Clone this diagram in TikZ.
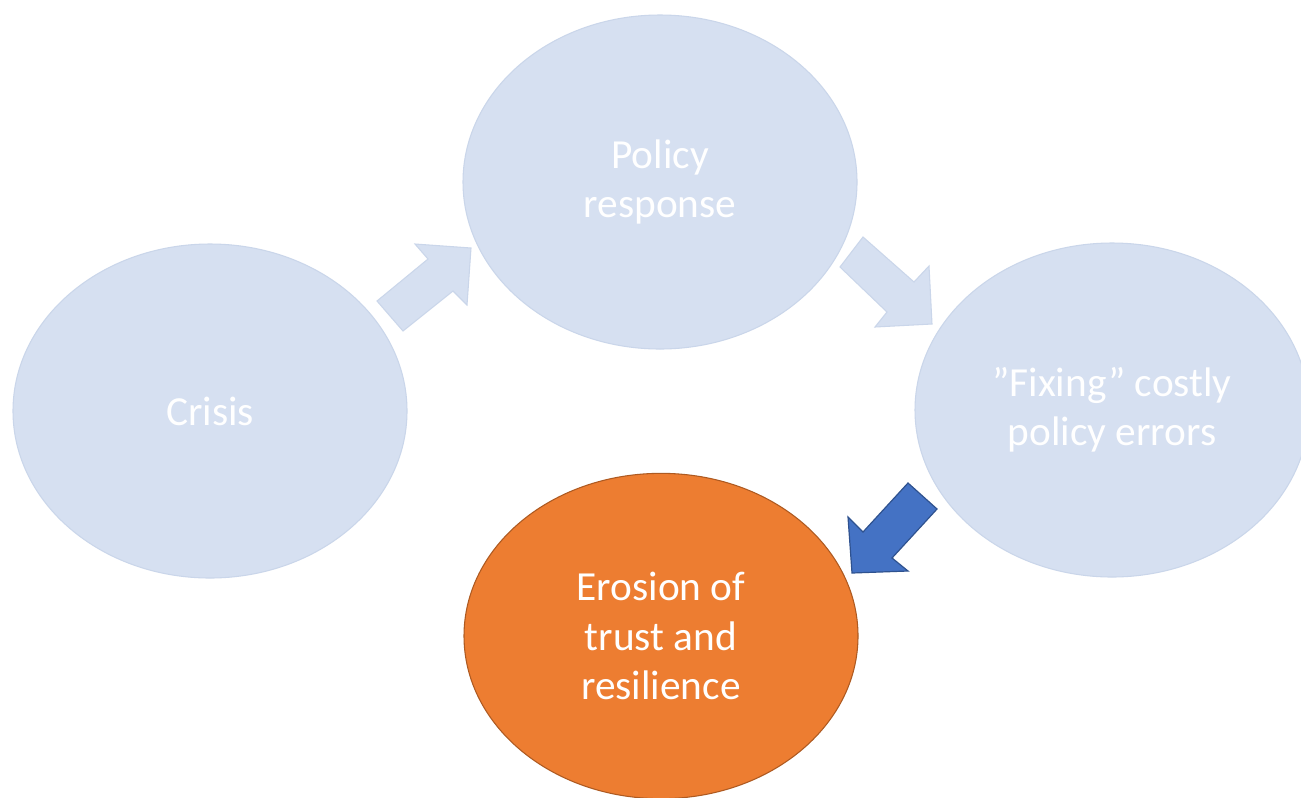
\documentclass[tikz,border=0pt]{standalone}
\usepackage{fontspec}
\setmainfont{Carlito}
\usetikzlibrary{shapes.geometric}
\definecolor{lightfill}{HTML}{D6E0F1}
\definecolor{lightline}{HTML}{CAD6EA}
\definecolor{orangefill}{HTML}{ED7D31}
\definecolor{orangeline}{HTML}{AE5A21}
\definecolor{bluefill}{HTML}{4472C4}
\definecolor{blueline}{HTML}{2F528F}
\tikzset{
  bubble/.style={ellipse, inner sep=0pt, minimum width=295.5pt, minimum height=250.5pt,
    fill=lightfill, draw=lightline, line width=0.8pt, text=white, align=center,
    font=\fontsize{31}{37}\selectfont},
  hotbubble/.style={bubble, fill=orangefill, draw=orangeline, minimum height=244pt},
  lightarrow/.style={fill=lightfill, draw=lightline, line width=0.8pt, line join=miter},
  bluearrow/.style={fill=bluefill, draw=blueline, line width=0.9pt, line join=miter}
}
\begin{document}
\begin{tikzpicture}[x=0.75pt,y=-0.75pt]
\useasboundingbox (0,0) rectangle (1301,797);
\clip (0,0) rectangle (1301,797);
\fill[white] (0,0) rectangle (1301,797);
\node[bubble] (crisis) at (210,411) {Crisis};
\node[bubble] (policy) at (660,182) {Policy\\response};
\node[bubble] (fixing) at (1112,410) {”Fixing” costly\\policy errors};
\node[hotbubble] (erosion) at (661,636) {Erosion of\\trust and\\resilience};
% block arrows
\draw[lightarrow] (377,301) -- (428,259) -- (415,244) -- (471,248) -- (467,305) -- (453,291) -- (403,331) -- cycle;
\draw[lightarrow] (863,237) -- (914,282) -- (929,266) -- (932,324) -- (875,327) -- (887,312) -- (840,267) -- cycle;
\draw[bluearrow] (908,483) -- (937,509) -- (892,558) -- (908,571) -- (852,573) -- (848,517) -- (863,532) -- cycle;
\end{tikzpicture}
\end{document}
